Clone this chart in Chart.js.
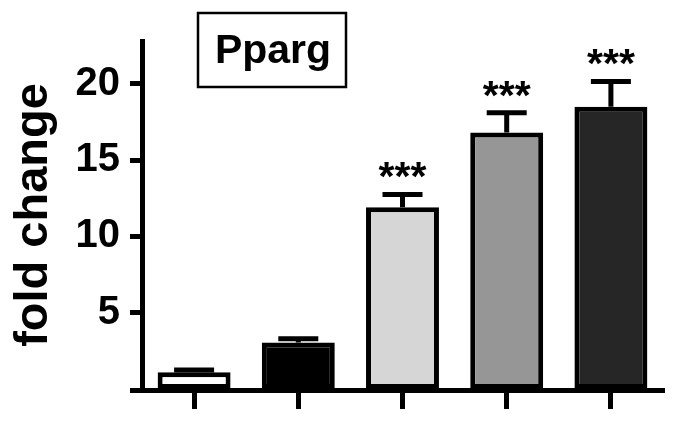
<!DOCTYPE html>
<html>
<head>
<meta charset="utf-8">
<script src="https://cdn.jsdelivr.net/npm/chart.js@4/dist/chart.umd.min.js"></script>
<style>
  html, body { margin: 0; padding: 0; background: #fff; }
</style>
</head>
<body>
<canvas id="chart" width="678" height="423"></canvas>
<script>
// data
const groups = ['group 1', 'group 2', 'group 3', 'group 4', 'group 5'];
const foldChange = [1.1, 3.05, 11.9, 16.8, 18.5];
const sem = [0.15, 0.25, 0.85, 1.3, 1.65];
const stars = ['', '', '***', '***', '***'];
const barColors = ['#ffffff', '#000000', '#d6d6d6', '#969696', '#262626'];
const yTicks = [5, 10, 15, 20];
const geneName = 'Pparg';

const FONT = '"Liberation Sans", Arial, Helvetica, sans-serif';

// error bars (upper only) + significance stars
const errorBars = {
  id: 'errorBars',
  afterDatasetsDraw(chart) {
    const ctx = chart.ctx;
    const y = chart.scales.y;
    const meta = chart.getDatasetMeta(0);
    ctx.save();
    ctx.strokeStyle = '#000';
    ctx.fillStyle = '#000';
    ctx.lineWidth = 5;
    meta.data.forEach((bar, i) => {
      const yBar = y.getPixelForValue(foldChange[i]);
      const yTop = y.getPixelForValue(foldChange[i] + sem[i]);
      ctx.beginPath();
      ctx.moveTo(bar.x, yBar);
      ctx.lineTo(bar.x, yTop);
      ctx.moveTo(bar.x - 20, yTop);
      ctx.lineTo(bar.x + 20, yTop);
      ctx.stroke();
      if (stars[i]) {
        ctx.font = 'bold 41px ' + FONT;
        ctx.textAlign = 'center';
        ctx.textBaseline = 'alphabetic';
        ctx.fillText(stars[i], bar.x, yTop - 4);
      }
    });
    ctx.restore();
  },
  afterDraw(chart) {
    // x axis line runs a bit past the y axis, like in Prism
    const ctx = chart.ctx;
    const area = chart.chartArea;
    ctx.save();
    ctx.strokeStyle = '#000';
    ctx.lineWidth = 5;
    ctx.beginPath();
    ctx.moveTo(area.left - 12, area.bottom + 1.5);
    ctx.lineTo(area.right + 2, area.bottom + 1.5);
    ctx.stroke();

    // gene name in a box
    ctx.lineWidth = 2.5;
    ctx.strokeRect(198, 13, 148, 74);
    ctx.font = 'bold 41px ' + FONT;
    ctx.textAlign = 'center';
    ctx.textBaseline = 'alphabetic';
    ctx.fillText(geneName, 273, 63);
    ctx.restore();
  }
};

new Chart(document.getElementById('chart').getContext('2d'), {
  type: 'bar',
  data: {
    labels: groups,
    datasets: [{
      data: foldChange,
      backgroundColor: barColors,
      borderColor: '#000',
      borderWidth: 5,
      borderSkipped: false,
      barPercentage: 0.7,
      categoryPercentage: 1.0
    }]
  },
  options: {
    responsive: false,
    animation: false,
    layout: { padding: { top: 41, right: 15, left: 0, bottom: 0 } },
    plugins: {
      legend: { display: false },
      tooltip: { enabled: false }
    },
    scales: {
      x: {
        grid: {
          display: true,
          drawOnChartArea: false,
          color: '#000',
          tickLength: 20,
          tickWidth: 5,
          offset: false
        },
        border: { display: false },
        ticks: { display: false },
        afterFit(scale) { scale.height = 33; }
      },
      y: {
        min: 0,
        max: 22.8,
        afterBuildTicks(scale) { scale.ticks = yTicks.map(v => ({ value: v })); },
        grid: {
          display: true,
          drawOnChartArea: false,
          color: '#000',
          tickLength: 12,
          tickWidth: 5
        },
        border: { display: true, color: '#000', width: 5 },
        ticks: {
          color: '#000',
          padding: 10,
          font: { family: FONT, size: 40, weight: 'bold' }
        },
        title: {
          display: true,
          text: 'fold change',
          color: '#000',
          padding: { top: 6, bottom: 0 },
          font: { family: FONT, size: 47, weight: 'bold' }
        },
        afterFit(scale) { scale.width = 142; }
      }
    }
  },
  plugins: [errorBars]
});
</script>
</body>
</html>
